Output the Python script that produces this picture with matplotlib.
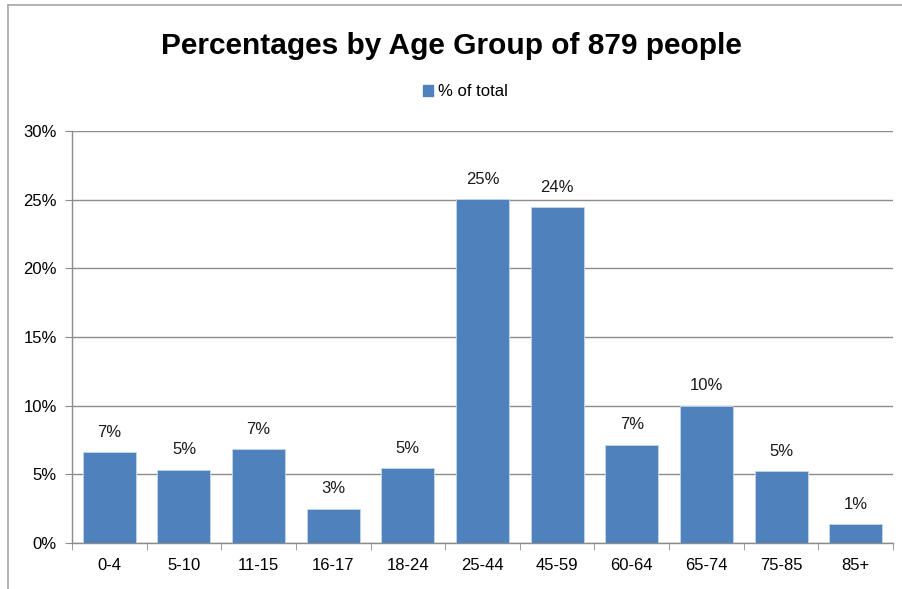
import matplotlib
matplotlib.use("Agg")
import matplotlib.pyplot as plt
from matplotlib.lines import Line2D
from matplotlib.patches import Patch
import numpy as np

groups = ["0-4", "5-10", "11-15", "16-17", "18-24", "25-44",
          "45-59", "60-64", "65-74", "75-85", "85+"]
pct = [6.598, 5.347, 6.826, 2.503, 5.461, 25.028, 24.460, 7.167, 10.011, 5.233, 1.365]
yticks = [0, 5, 10, 15, 20, 25, 30]

plt.rcParams['font.family'] = ['Liberation Sans', 'DejaVu Sans']

W, H = 903, 589
fig = plt.figure(figsize=(W / 100, H / 100), dpi=100)
fig.patch.set_facecolor("white")

# chart frame (only top and left edges are visible)
fig.add_artist(Line2D([8 / W, 8 / W], [0, 1 - 5 / H], transform=fig.transFigure,
                      color="#a6a6a6", lw=1.2))
fig.add_artist(Line2D([8 / W, 1], [1 - 5 / H, 1 - 5 / H], transform=fig.transFigure,
                      color="#a6a6a6", lw=1.2))

ax = fig.add_axes([72 / W, 46 / H, (893 - 72) / W, (543 - 131) / H])
x = np.arange(len(groups))
ax.bar(x, pct, width=0.71, color="#4f81bd", edgecolor="#c6d5ea", linewidth=0.6, zorder=3)

for xi, v in zip(x, pct):
    ax.text(xi, v + 0.9, f"{v:.0f}%", ha="center", va="bottom", fontsize=12,
            color="#1a1a1a")

ax.set_xlim(-0.5, len(groups) - 0.5)
ax.set_ylim(0, 30)
ax.set_yticks(yticks)
ax.set_yticklabels([f"{t}%" for t in yticks], fontsize=12)
ax.set_xticks(x)
ax.set_xticklabels(groups, fontsize=12)
ax.tick_params(axis="x", length=0, pad=11)
ax.tick_params(axis="y", length=5, color="#8c8c8c", pad=6)
ax.set_xticks(np.arange(len(groups) + 1) - 0.5, minor=True)
ax.tick_params(axis="x", which="minor", length=5, color="#8c8c8c", direction="out")

ax.yaxis.grid(True, color="#8c8c8c", lw=1.0, zorder=0)
for s in ["top", "right"]:
    ax.spines[s].set_visible(False)
for s in ["left", "bottom"]:
    ax.spines[s].set_color("#8c8c8c")
    ax.spines[s].set_linewidth(1.0)

fig.text(0.5, 1 - 46 / H, "Percentages by Age Group of 879 people", ha="center", va="center",
         fontsize=21.5, fontweight="bold")
fig.legend(handles=[Patch(color="#4f81bd", label="% of total")], loc="center",
           bbox_to_anchor=(465 / W, 1 - 92 / H), frameon=False,
           handlelength=0.6, handleheight=0.6, handletextpad=0.3,
           prop={'size': 12})

fig.savefig("out.png", dpi=100)
